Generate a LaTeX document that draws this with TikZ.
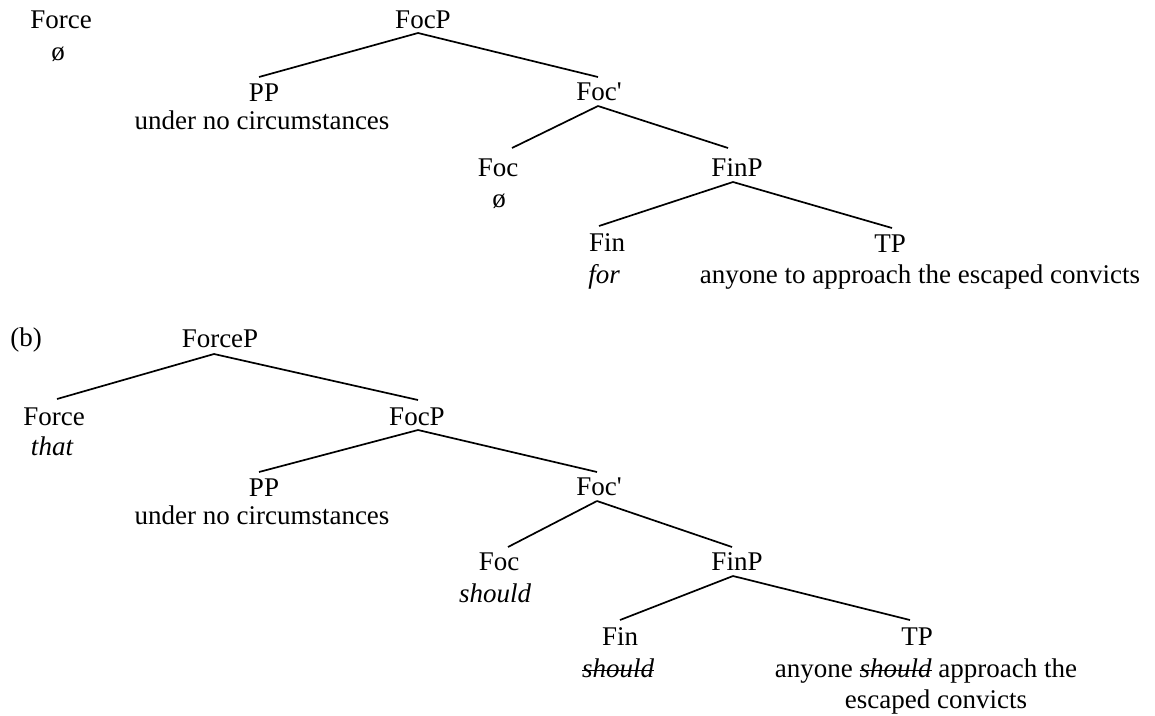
\documentclass[tikz,border=0pt]{standalone}
\usepackage{fontspec}
\setmainfont{Liberation Serif}
\newcommand\strk[1]{\setbox0\hbox{#1}\rlap{\rule[0.22em]{\wd0}{0.055em}}\box0}
\begin{document}
\begin{tikzpicture}[x=1pt,y=-1pt,
  every node/.style={inner sep=0pt, outer sep=0pt, anchor=base, font=\fontsize{27}{32}\selectfont},
  br/.style={line width=1.7pt}]
\useasboundingbox (0,0) rectangle (1155,715);
% ---------- tree (a) ----------
\node (Forcea) at (61,28) {Force};
\node (Forceae) at (58,60) {ø};
\node (FocPa) at (423,28) {FocP};
\node (PPa) at (264,101) {PP};
\node (PPat) at (262,129) {under no circumstances};
\node (Focbara) at (599,100) {Foc\textquotesingle};
\node (Foca) at (498,176) {Foc};
\node (Focae) at (499,207) {ø};
\node (FinPa) at (737,176) {FinP};
\node (Fina) at (607,251) {Fin};
\node (Finat) at (604,283) {\itshape for};
\node (TPa) at (890,252) {TP};
\node (TPat) at (920,283) {anyone to approach the escaped convicts};
\draw[br] ([shift={(-5,5)}]FocPa.base) -- ([shift={(-5,-24)}]PPa.base);
\draw[br] ([shift={(-5,5)}]FocPa.base) -- ([shift={(-1,-23)}]Focbara.base);
\draw[br] ([shift={(-1,6)}]Focbara.base) -- ([shift={(14,-28)}]Foca.base);
\draw[br] ([shift={(-1,6)}]Focbara.base) -- ([shift={(-9,-28)}]FinPa.base);
\draw[br] ([shift={(-4,6)}]FinPa.base) -- ([shift={(-8,-25)}]Fina.base);
\draw[br] ([shift={(-4,6)}]FinPa.base) -- ([shift={(2,-24)}]TPa.base);
% ---------- tree (b) ----------
\node (lblb) at (26,346) {(b)};
\node (ForcePb) at (220,347) {ForceP};
\node (Forceb) at (54,425) {Force};
\node (Forcebt) at (52,455) {\itshape that};
\node (FocPb) at (417,425) {FocP};
\node (PPb) at (264,496) {PP};
\node (PPbt) at (262,524) {under no circumstances};
\node (Focbarb) at (599,495) {Foc\textquotesingle};
\node (Focb) at (499,570) {Foc};
\node (Focbt) at (495,602) {\itshape should};
\node (FinPb) at (737,570) {FinP};
\node (Finb) at (620,645) {Fin};
\node (Finbt) at (618,677) {\itshape\strk{should}};
\node (TPb) at (917,645) {TP};
\node (TPbt) at (926,677) {anyone \textit{\strk{should}} approach the};
\node (TPbt2) at (936,708) {escaped convicts};
\draw[br] ([shift={(-6,7)}]ForcePb.base) -- ([shift={(3,-26)}]Forceb.base);
\draw[br] ([shift={(-6,7)}]ForcePb.base) -- ([shift={(1,-25)}]FocPb.base);
\draw[br] ([shift={(1,5)}]FocPb.base) -- ([shift={(-5,-24)}]PPb.base);
\draw[br] ([shift={(1,5)}]FocPb.base) -- ([shift={(-2,-23)}]Focbarb.base);
\draw[br] ([shift={(-2,6)}]Focbarb.base) -- ([shift={(9,-23)}]Focb.base);
\draw[br] ([shift={(-2,6)}]Focbarb.base) -- ([shift={(-5,-23)}]FinPb.base);
\draw[br] ([shift={(-4,6)}]FinPb.base) -- ([shift={(0,-25)}]Finb.base);
\draw[br] ([shift={(-4,6)}]FinPb.base) -- ([shift={(-7,-25)}]TPb.base);
\end{tikzpicture}
\end{document}
